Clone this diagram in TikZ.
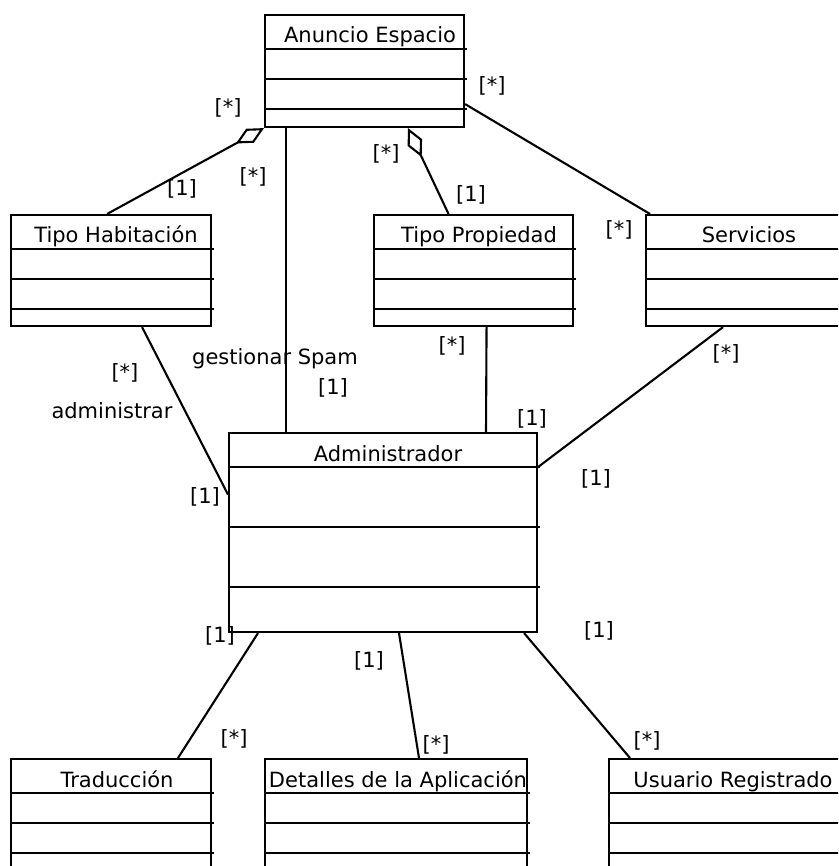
\documentclass[tikz,border=0pt]{standalone}
\usepackage{fontspec}
\setmainfont{DejaVu Sans}
\usepackage{tikz}
\usetikzlibrary{calc,arrows.meta,positioning}

\tikzset{
  umlclass/.style={draw, rectangle, anchor=north west, inner sep=0pt},
  clsname/.style={anchor=base, inner sep=0pt},
  mult/.style={inner sep=0pt},
  aggr/.style={-{Diamond[open,length=32pt,width=16pt]}},
}

\begin{document}
\begin{tikzpicture}[x=1pt, y=-1pt, line width=2.1pt, font=\fontsize{21}{25}\selectfont]
    \useasboundingbox (0,0) rectangle (838,866);
    \clip (0,0) rectangle (838,866);
    % clases
    \node[umlclass, minimum width=199pt, minimum height=112pt] (anuncio) at (264,14) {};
    \node[umlclass, minimum width=200pt, minimum height=111pt] (habit) at (10,214) {};
    \node[umlclass, minimum width=199pt, minimum height=111pt] (prop) at (373,214) {};
    \node[umlclass, minimum width=210pt, minimum height=111pt] (serv) at (645,214) {};
    \node[umlclass, minimum width=308pt, minimum height=199pt] (admin) at (228,432) {};
    \node[umlclass, minimum width=200pt, minimum height=130pt] (trad) at (10,758) {};
    \node[umlclass, minimum width=262pt, minimum height=130pt] (detal) at (264,758) {};
    \node[umlclass, minimum width=260pt, minimum height=130pt] (usuario) at (608,758) {};
    \foreach \c in {anuncio,habit,prop,serv,trad,detal,usuario}
      \foreach \d in {35pt,65pt,95pt}
        \draw ([yshift=-\d]\c.north west) -- ([xshift=2pt,yshift=-\d]\c.north east);
    \foreach \d in {35pt,95pt,155pt}
      \draw ([yshift=-\d]admin.north west) -- ([xshift=2pt,yshift=-\d]admin.north east);
    \node[clsname] (anuncio-n) at (370,43) {Anuncio Espacio};
    \node[clsname] (habit-n) at (116,243) {Tipo Habitación};
    \node[clsname] (prop-n) at (479,243) {Tipo Propiedad};
    \node[clsname] (serv-n) at (749,243) {Servicios};
    \node[clsname] (admin-n) at (388,461) {Administrador};
    \node[clsname] (trad-n) at (117,787) {Traducción};
    \node[clsname] (detal-n) at (398,787) {Detalles de la Aplicación};
    \node[clsname] (usuario-n) at (733,787) {Usuario Registrado};
    % asociaciones
    \draw[aggr] ([xshift=-4pt]habit.north) -- (anuncio.south west);
    \draw[aggr] ([xshift=-25pt]prop.north) -- ([xshift=144pt]anuncio.south west);
    \draw ([xshift=22pt]anuncio.south west) -- ([xshift=58pt]admin.north west);
    \draw ([yshift=24pt]anuncio.south east) -- ([xshift=5pt]serv.north west);
    \draw ([xshift=31pt]habit.south) -- ([yshift=38pt]admin.west);
    \draw ([xshift=13pt]prop.south) -- ([xshift=258pt]admin.north west);
    \draw ([xshift=-28pt]serv.south) -- ([yshift=-35pt]admin.north east);
    \draw ([xshift=30pt]admin.south west) -- ([xshift=168pt]trad.north west);
    \draw ([xshift=171pt]admin.south west) -- ([xshift=155pt]detal.north west);
    \draw ([xshift=-14pt]admin.south east) -- ([xshift=22pt]usuario.north west);
    % multiplicidades
    \node[mult] (mAH) at (228,108) {[*]};
    \node[mult] (mHA) at (182,189) {[1]};
    \node[mult] (mAG) at (253,177) {[*]};
    \node[clsname] (gestion) at (275,364) {gestionar Spam};
    \node[mult] (mGA) at (333,388) {[1]};
    \node[mult] (mAP) at (386,154) {[*]};
    \node[mult] (mPA) at (471,195) {[1]};
    \node[mult] (mAS) at (492,86) {[*]};
    \node[mult] (mSA) at (619,230) {[*]};
    \node[mult] (mHD) at (125,373) {[*]};
    \node[clsname] (adminis) at (112,418) {administrar};
    \node[mult] (mDH) at (205,497) {[1]};
    \node[mult] (mPD) at (452,346) {[*]};
    \node[mult] (mDP) at (532,419) {[1]};
    \node[mult] (mSD) at (726,354) {[*]};
    \node[mult] (mDS) at (596,479) {[1]};
    \node[mult] (mDT) at (220,636) {[1]};
    \node[mult] (mTD) at (234,739) {[*]};
    \node[mult] (mDL) at (369,661) {[1]};
    \node[mult] (mLD) at (436,745) {[*]};
    \node[mult] (mDU) at (599,631) {[1]};
    \node[mult] (mUD) at (647,741) {[*]};
\end{tikzpicture}
\end{document}
